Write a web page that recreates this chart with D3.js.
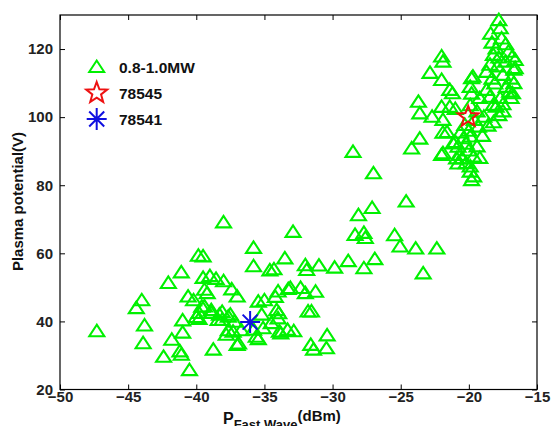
<!DOCTYPE html>
<html><head><meta charset="utf-8">
<script src="https://cdn.jsdelivr.net/npm/d3@7"></script>
<style>body{margin:0;background:#fff}svg{display:block}</style>
</head><body><svg id="c" width="552" height="426"></svg>
<script>
// ---- data: [P_FastWave (dBm), Plasma potential (V)] ----
const lowCluster = [
[-47.3,37.1],[-44.0,46.2],[-44.4,43.9],[-43.8,38.8],[-43.9,33.6],[-42.05,51.3],[-41.1,54.4],[-42.4,29.6],
[-41.8,34.6],[-41.2,31.2],[-41.1,30.2],[-41.0,40.3],[-41.0,36.7],[-40.5,25.7],[-39.85,59.3],[-39.5,59.1],
[-40.6,47.3],[-40.2,46.2],[-39.8,42.5],[-40.0,41.3],[-39.8,40.7],[-39.4,44.4],[-39.2,48.3],[-39.5,52.8],
[-39.0,53.3],[-38.55,52.5],[-38.0,51.8],[-38.0,69.1],[-38.75,31.7],[-38.9,42.5],[-38.3,42.0],[-38.1,40.5],
[-37.5,42.0],[-37.4,49.4],[-37.0,47.3],[-37.8,36.1],[-37.0,33.1],[-37.3,37.0],[-35.8,61.6],[-35.8,56.2],
[-34.6,55.0],[-35.2,42.0],[-35.45,34.8],[-35.8,37.6],[-34.3,55.3],[-33.5,58.5],[-33.1,49.8],[-34.0,48.8],
[-34.2,47.2],[-35.0,46.2],[-35.45,45.8],[-34.1,43.3],[-34.0,40.9],[-34.5,39.5],[-35.1,38.0],[-35.6,35.5],
[-33.8,36.5],[-33.3,37.5],[-36.9,33.5],[-39.4,49.3],[-39.6,44.3],[-38.9,43.3],[-38.1,42.8],[-37.65,41.4],
[-37.2,39.9],[-38.4,40.4],[-37.65,37.4],[-36.7,37.4]
];
const midCluster = [
[-32.9,66.3],[-28.35,65.4],[-27.7,66.0],[-27.6,64.5],[-32.0,56.5],[-31.9,55.1],[-31.0,56.4],[-29.85,55.8],
[-28.85,57.7],[-27.7,55.6],[-26.9,58.3],[-33.25,49.5],[-32.35,49.8],[-32.0,48.3],[-31.25,48.7],[-31.8,42.9],
[-31.55,42.9],[-32.85,37.1],[-33.9,37.0],[-33.95,42.4],[-30.4,35.9],[-31.6,33.1],[-31.4,31.7],[-30.45,32.1],
[-28.5,89.8],[-27.0,83.5],[-24.6,75.2],[-28.1,71.2],[-27.1,73.3],[-25.45,65.3],[-25.05,62.0],[-23.9,61.4],
[-22.35,61.4],[-23.35,54.1]
];
const highCluster = [
[-23.6,93.7],[-24.2,90.8],[-21.9,95.4],[-22.0,88.9],[-21.15,92.3],[-20.9,87.9],[-22.0,117.8],[-21.9,116.3],
[-22.85,113.0],[-22.0,110.9],[-21.4,108.0],[-23.7,104.5],[-23.6,101.1],[-22.7,100.1],[-22.0,103.0],[-21.4,103.0],
[-21.9,99.2],[-21.0,102.4],[-20.8,91.3],[-19.8,111.4],[-19.8,106.9],[-19.9,84.0],[-19.8,81.5],[-20.5,87.9],
[-20.8,86.4],[-17.8,128.5],[-17.7,126.1],[-17.6,123.1],[-18.0,120.2],[-18.2,118.3],[-17.1,119.2],[-16.6,116.8],
[-16.6,114.4],[-18.45,115.4],[-18.7,113.3],[-17.5,112.4],[-19.7,111.9],[-19.9,108.9],[-18.1,109.9],[-18.7,108.0],
[-17.0,107.5],[-17.7,105.6],[-16.9,105.6],[-18.2,103.6],[-17.5,101.7],[-17.8,100.6],[-19.2,105.6],[-19.4,101.7],
[-19.9,103.5],[-21.2,107.0],[-21.6,95.6],[-21.9,89.4],[-21.0,92.7],[-20.65,88.9],[-19.9,94.3],[-19.4,91.4],
[-19.3,97.2],[-19.65,88.4],[-19.9,85.5],[-19.65,82.6],[-18.45,106.0],[-18.0,103.1],[-17.25,108.9],[-18.9,100.1],
[-16.8,117.8],[-16.7,113.9],[-16.8,107.0],[-18.3,121.9],[-17.3,121.4],[-17.3,116.3],[-17.9,114.9],[-16.9,111.3],
[-18.3,111.3],[-17.5,103.8],[-20.2,92.2],[-20.4,93.8],[-20.0,90.2],[-20.3,97.7],[-19.6,99.2],
[-20.6,95.5],[-20.0,96.0],[-19.0,94.5],[-20.2,86.5],[-19.2,88.0],[-18.6,97.5],[-18.2,98.5],[-16.7,110.0],
[-17.8,117.5],[-18.4,124.5]
];
const shot78545 = [[-20.05,100.1]];
const shot78541 = [[-36.05,39.8]];
const legendLabels = ["0.8-1.0MW","78545","78541"];
const xTickValues = [-50,-45,-40,-35,-30,-25,-20,-15];
const yTickValues = [20,40,60,80,100,120];

// ---- layout ----
const svg = d3.select("#c");
const L = 60, R = 537, T = 15, B = 389.5;
const x = d3.scaleLinear().domain([-50,-15]).range([L,R]);
const y = d3.scaleLinear().domain([20,130]).range([B,T]);
const FONT = "'Liberation Sans', Arial, Helvetica, sans-serif";
const GREEN = "#00f000", RED = "#ee1111", BLUE = "#1010e0";

svg.append("rect").attr("width",552).attr("height",426).attr("fill","#fff");

function styleAxis(g){
  g.select(".domain").remove();
  g.selectAll(".tick line").attr("stroke","#000").attr("stroke-width",1);
  g.selectAll(".tick text").attr("fill","#222").style("font-family",FONT)
    .style("font-weight","bold").style("font-size","15px");
}
svg.append("g").attr("transform",`translate(0,${B})`)
  .call(d3.axisBottom(x).tickValues(xTickValues).tickSizeInner(-5).tickSizeOuter(0).tickPadding(2).tickFormat(d3.format("d")))
  .call(styleAxis);
svg.append("g").attr("transform",`translate(0,${T})`)
  .call(d3.axisTop(x).tickValues(xTickValues).tickSizeInner(-5).tickSizeOuter(0).tickFormat(""))
  .call(styleAxis);
svg.append("g").attr("transform",`translate(${L},0)`)
  .call(d3.axisLeft(y).tickValues(yTickValues).tickSizeInner(-5).tickSizeOuter(0).tickPadding(7).tickFormat(d3.format("d")))
  .call(styleAxis);
svg.append("g").attr("transform",`translate(${R},0)`)
  .call(d3.axisRight(y).tickValues(yTickValues).tickSizeInner(-5).tickSizeOuter(0).tickFormat(""))
  .call(styleAxis);
svg.append("rect").attr("x",L).attr("y",T).attr("width",R-L).attr("height",B-T)
  .attr("fill","none").attr("stroke","#000").attr("stroke-width",1.2);

// markers
const triPath = "M0,-6.5L-7.5,5L7.5,5Z";
function starPath(ro, ri){
  let p = [];
  for(let i=0;i<10;i++){
    const a = -Math.PI/2 + i*Math.PI/5, r = i%2===0?ro:ri;
    p.push([r*Math.cos(a), r*Math.sin(a)]);
  }
  return "M"+p.map(d=>d[0].toFixed(2)+","+d[1].toFixed(2)).join("L")+"Z";
}
const astPath = "M-10,0L10,0M0,-11L0,11M-7.5,-7.5L7.5,7.5M-7.5,7.5L7.5,-7.5";

const plot = svg.append("g");
const allTri = lowCluster.concat(midCluster, highCluster);
plot.selectAll("path.tri").data(allTri).enter().append("path").attr("class","tri")
  .attr("d",triPath).attr("transform",d=>`translate(${x(d[0])},${y(d[1])})`)
  .attr("fill","none").attr("stroke",GREEN).attr("stroke-width",2.1);
plot.selectAll("path.star").data(shot78545).enter().append("path").attr("class","star")
  .attr("d",starPath(11,4.6)).attr("transform",d=>`translate(${x(d[0])},${y(d[1])})`)
  .attr("fill","none").attr("stroke",RED).attr("stroke-width",2);
plot.selectAll("path.ast").data(shot78541).enter().append("path").attr("class","ast")
  .attr("d",astPath).attr("transform",d=>`translate(${x(d[0])},${y(d[1])})`)
  .attr("fill","none").attr("stroke",BLUE).attr("stroke-width",2);

// legend
const legY = [67, 93, 119];
const legShapes = [
  {d:triPath, c:GREEN},
  {d:starPath(11,4.6), c:RED},
  {d:astPath, c:BLUE}
];
const leg = svg.append("g");
legendLabels.forEach((lab,i)=>{
  leg.append("path").attr("d",legShapes[i].d).attr("transform",`translate(96.7,${legY[i]})`)
    .attr("fill","none").attr("stroke",legShapes[i].c).attr("stroke-width",2);
  leg.append("text").attr("x",119).attr("y",legY[i]).attr("dy","0.36em")
    .style("font-family",FONT).style("font-weight","bold").style("font-size","15.5px")
    .attr("fill","#111").text(lab);
});

// axis titles
svg.append("text").attr("transform","translate(23,201.5) rotate(-90)")
  .attr("text-anchor","middle").style("font-family",FONT).style("font-weight","bold")
  .style("font-size","15px").attr("fill","#111").text("Plasma potential(V)");
const xt = svg.append("text").attr("x",223).attr("y",424)
  .style("font-family",FONT).style("font-weight","bold").attr("fill","#111");
xt.append("tspan").style("font-size","16px").text("P");
xt.append("tspan").style("font-size","13px").attr("dy",5).text("Fast Wave");
xt.append("tspan").style("font-size","15px").attr("dy",-8).text("(dBm)");
</script></body></html>
